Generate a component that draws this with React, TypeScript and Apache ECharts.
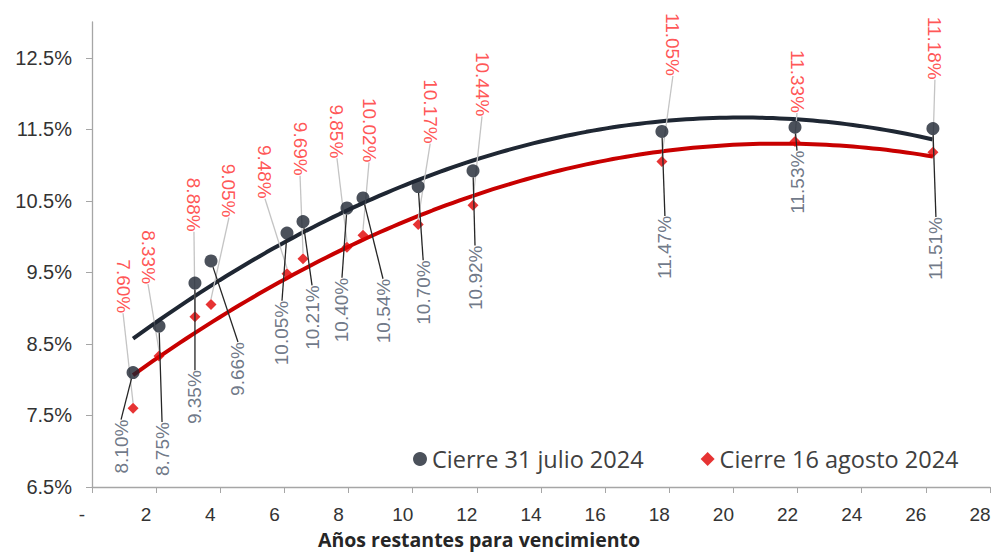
import React, { useEffect, useRef } from 'react';
import * as echarts from 'echarts';

// Data
const xYears = [1.28, 2.09, 3.21, 3.71, 6.08, 6.58, 7.95, 8.45, 10.17, 11.88, 17.77, 21.92, 26.22];
const julio = [8.1, 8.75, 9.35, 9.66, 10.05, 10.21, 10.4, 10.54, 10.7, 10.92, 11.47, 11.53, 11.51];
const agosto = [7.6, 8.33, 8.88, 9.05, 9.48, 9.69, 9.85, 10.02, 10.17, 10.44, 11.05, 11.33, 11.18];
const yTicks = [6.5, 7.5, 8.5, 9.5, 10.5, 11.5, 12.5];
const xTicks = [0, 2, 4, 6, 8, 10, 12, 14, 16, 18, 20, 22, 24, 26, 28];
const seriesNames = ['Cierre 31 julio 2024', 'Cierre 16 agosto 2024'];

// Label placement: screen offsets (px) of each label centre from its point
const julioSx = [-12, 3, 0, 27, -5, 9, -5, 20, 5, 2, 3, 2, 3];
const julioSy = [74, 123, 114, 108, 100, 96, 102, 113, 106, 107, 116, 55, 120];
const agostoSx = [-10, -11, -1, 18, -22, -3, -10, 6, 12, 9, 11, 2, 2];
const agostoSy = [-122, -99, -112, -114, -102, -110, -116, -105, -113, -121, -117, -60, -104];

// Least-squares polynomial (order 2) trendline, as in the source chart
function quadFit(xs: number[], ys: number[]) {
  let s0 = 0, s1 = 0, s2 = 0, s3 = 0, s4 = 0, t0 = 0, t1 = 0, t2 = 0;
  xs.forEach((x, i) => {
    const y = ys[i];
    s0 += 1; s1 += x; s2 += x * x; s3 += x * x * x; s4 += x * x * x * x;
    t0 += y; t1 += x * y; t2 += x * x * y;
  });
  const A = [
    [s0, s1, s2, t0],
    [s1, s2, s3, t1],
    [s2, s3, s4, t2],
  ];
  for (let i = 0; i < 3; i++) {
    let p = i;
    for (let r = i + 1; r < 3; r++) if (Math.abs(A[r][i]) > Math.abs(A[p][i])) p = r;
    [A[i], A[p]] = [A[p], A[i]];
    for (let r = 0; r < 3; r++) {
      if (r === i) continue;
      const f = A[r][i] / A[i][i];
      for (let c = i; c < 4; c++) A[r][c] -= f * A[i][c];
    }
  }
  const a = A[0][3] / A[0][0], b = A[1][3] / A[1][1], c = A[2][3] / A[2][2];
  return (x: number) => a + b * x + c * x * x;
}

function trend(xs: number[], ys: number[]) {
  const f = quadFit(xs, ys);
  const x0 = xs[0], x1 = xs[xs.length - 1];
  const n = 120;
  const out: number[][] = [];
  for (let i = 0; i <= n; i++) {
    const x = x0 + ((x1 - x0) * i) / n;
    out.push([x, f(x)]);
  }
  return out;
}

const pct = (v: number) => v.toFixed(2) + '%';

export default function App() {
  const ref = useRef<HTMLDivElement>(null);
  useEffect(() => {
    const chart = echarts.init(ref.current!, null, { renderer: 'svg' });
    const option: any = {
      animation: false,
      backgroundColor: '#ffffff',
      grid: { left: 92, right: 5, top: 22, bottom: 62, containLabel: false },
      legend: {
        data: [
          { name: seriesNames[0], icon: 'circle' },
          { name: seriesNames[1], icon: 'diamond' },
        ],
        left: 408,
        top: 442,
        itemWidth: 14,
        itemHeight: 14,
        itemGap: 57,
        textStyle: { fontFamily: 'Open Sans', fontSize: 23.5, color: '#404040' },
      },
      xAxis: {
        type: 'value',
        min: 0,
        max: 28,
        interval: 2,
        name: 'Años restantes para vencimiento',
        nameLocation: 'middle',
        nameGap: 42,
        nameTextStyle: {
          fontFamily: 'Open Sans',
          fontWeight: 'bold',
          fontSize: 19.5,
          color: '#262626',
          padding: [0, 124, 0, 0],
        },
        axisLine: { show: true, lineStyle: { color: '#a6a6a6', width: 1.3 } },
        axisTick: { show: true, length: 6, lineStyle: { color: '#a6a6a6' } },
        splitLine: { show: false },
        axisLabel: {
          fontFamily: 'Liberation Sans',
          fontSize: 19,
          color: '#333333',
          margin: 18,
          padding: [0, 20, 0, 0],
          formatter: (v: number) => (v === 0 ? '-' : String(v)),
          customValues: xTicks,
        },
      },
      yAxis: {
        type: 'value',
        min: 6.5,
        max: 13,
        axisLine: { show: true, lineStyle: { color: '#a6a6a6', width: 1.3 } },
        axisTick: { show: true, length: 6, lineStyle: { color: '#a6a6a6' }, customValues: yTicks },
        splitLine: { show: false },
        axisLabel: {
          fontFamily: 'Liberation Sans',
          fontSize: 20,
          color: '#333333',
          margin: 20,
          formatter: (v: number) => v.toFixed(1) + '%',
          customValues: yTicks,
        },
      },
      series: [
        {
          name: 'trend-julio',
          type: 'line',
          data: trend(xYears, julio),
          showSymbol: false,
          silent: true,
          lineStyle: { color: '#1f2733', width: 4 },
          z: 2,
        },
        {
          name: 'trend-agosto',
          type: 'line',
          data: trend(xYears, agosto),
          showSymbol: false,
          silent: true,
          lineStyle: { color: '#c80000', width: 4 },
          z: 2,
        },
        {
          name: seriesNames[0],
          type: 'scatter',
          symbol: 'circle',
          symbolSize: 13,
          itemStyle: { color: '#1e2632' },
          data: xYears.map((x, i) => [x, julio[i]]),
          label: {
            show: true,
            position: 'inside',
            rotate: 90,
            fontFamily: 'Liberation Sans',
            fontSize: 19,
            color: '#4a5568',
            formatter: (p: any) => pct(p.value[1]),
          },
          labelLine: { show: true, lineStyle: { color: '#262626', width: 1.3 } },
          // rotated label: its local axes are turned by 90 degrees
          labelLayout: (p: any) => ({ dx: -julioSy[p.dataIndex], dy: julioSx[p.dataIndex] }),
          z: 4,
        },
        {
          name: seriesNames[1],
          type: 'scatter',
          symbol: 'diamond',
          symbolSize: 11,
          itemStyle: { color: '#e00000' },
          data: xYears.map((x, i) => [x, agosto[i]]),
          label: {
            show: true,
            position: 'inside',
            rotate: -90,
            fontFamily: 'Liberation Sans',
            fontSize: 19,
            color: '#ff2a2a',
            formatter: (p: any) => pct(p.value[1]),
          },
          labelLine: { show: true, lineStyle: { color: '#c4c4c4', width: 1.3 } },
          labelLayout: (p: any) => ({ dx: agostoSy[p.dataIndex], dy: -agostoSx[p.dataIndex] }),
          z: 3,
        },
      ],
    };
    chart.setOption(option);
    return () => chart.dispose();
  }, []);
  return (
    <div
      ref={ref}
      style={{ position: 'fixed', left: 0, top: 0, width: 995, height: 554, background: '#fff' }}
    />
  );
}
